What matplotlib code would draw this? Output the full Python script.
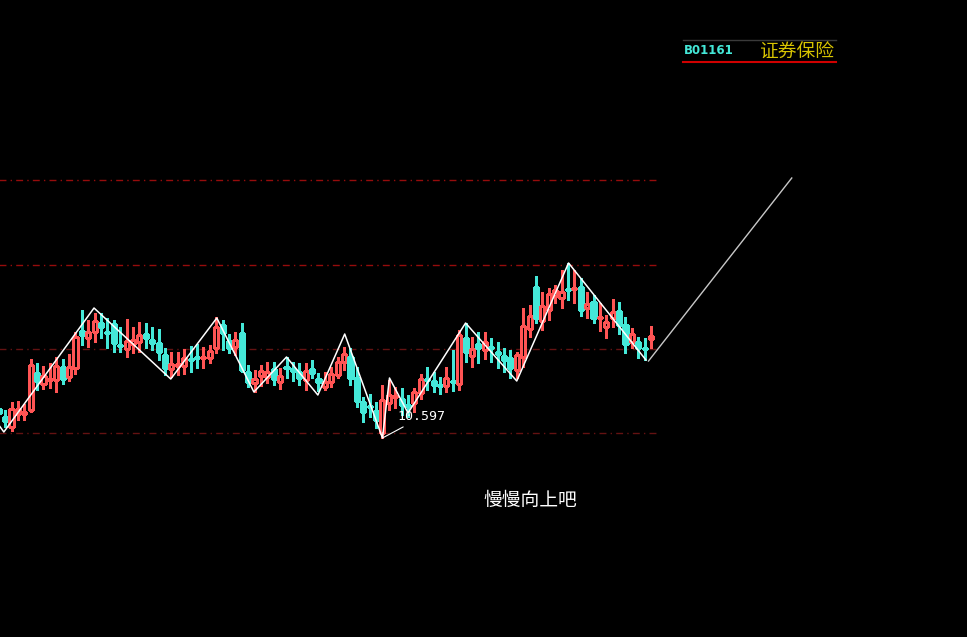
import matplotlib.pyplot as plt
from matplotlib.lines import Line2D

plt.rcParams['font.family'] = ['Noto Sans CJK SC', 'DejaVu Sans']

# daily candles, index 0..102
opens = [10.887, 10.807, 10.707, 10.837, 10.837, 10.877, 11.247, 11.137, 11.177, 11.177,
         11.307, 11.207, 11.297, 11.667, 11.597, 11.657, 11.747, 11.657, 11.737, 11.527,
         11.487, 11.537, 11.557, 11.637, 11.577, 11.547, 11.427, 11.287, 11.317, 11.317,
         11.387, 11.407, 11.397, 11.397, 11.497, 11.727, 11.567, 11.507, 11.647, 11.257,
         11.147, 11.217, 11.207, 11.287, 11.157, 11.307, 11.287, 11.257, 11.177, 11.287,
         11.187, 11.107, 11.157, 11.227, 11.357, 11.407, 11.197, 10.957, 10.917, 10.867,
         10.647, 10.947, 11.007, 10.987, 10.927, 10.947, 11.047, 11.187, 11.167, 11.127,
         11.117, 11.167, 11.137, 11.597, 11.417, 11.537, 11.477, 11.507, 11.457, 11.417,
         11.397, 11.277, 11.407, 11.687, 12.107, 11.767, 11.877, 12.017, 11.997, 12.087,
         12.087, 12.107, 11.897, 11.957, 11.797, 11.707, 11.797, 11.867, 11.727, 11.557,
         11.557, 11.497, 11.587]
highs = [10.917, 10.877, 10.957, 10.967, 10.937, 11.387, 11.347, 11.317, 11.347, 11.407,
         11.387, 11.437, 11.657, 11.877, 11.777, 11.847, 11.847, 11.797, 11.777, 11.707,
         11.787, 11.707, 11.757, 11.747, 11.707, 11.687, 11.497, 11.457, 11.457, 11.487,
         11.517, 11.537, 11.507, 11.527, 11.807, 11.777, 11.637, 11.657, 11.747, 11.327,
         11.277, 11.327, 11.357, 11.357, 11.297, 11.407, 11.357, 11.347, 11.347, 11.377,
         11.247, 11.257, 11.307, 11.407, 11.507, 11.497, 11.307, 11.007, 11.037, 10.957,
         11.127, 11.177, 11.107, 11.097, 11.027, 11.097, 11.237, 11.307, 11.257, 11.207,
         11.307, 11.477, 11.677, 11.747, 11.607, 11.657, 11.657, 11.597, 11.557, 11.497,
         11.477, 11.457, 11.897, 11.927, 12.217, 12.057, 12.097, 12.127, 12.277, 12.347,
         12.277, 12.197, 12.057, 12.027, 11.947, 11.827, 11.987, 11.957, 11.807, 11.697,
         11.607, 11.597, 11.717]
lows = [10.817, 10.707, 10.667, 10.777, 10.777, 10.857, 11.077, 11.087, 11.097, 11.057,
        11.137, 11.167, 11.237, 11.527, 11.507, 11.557, 11.597, 11.497, 11.457, 11.457,
        11.407, 11.447, 11.457, 11.497, 11.477, 11.377, 11.227, 11.207, 11.227, 11.237,
        11.257, 11.297, 11.297, 11.347, 11.447, 11.477, 11.447, 11.427, 11.257, 11.107,
        11.057, 11.117, 11.147, 11.127, 11.087, 11.197, 11.167, 11.127, 11.077, 11.197,
        11.067, 11.077, 11.107, 11.197, 11.277, 11.127, 10.907, 10.757, 10.807, 10.697,
        10.597, 10.877, 10.897, 10.827, 10.807, 10.857, 10.987, 11.077, 11.057, 11.037,
        11.057, 11.067, 11.077, 11.357, 11.307, 11.347, 11.387, 11.357, 11.297, 11.257,
        11.197, 11.197, 11.307, 11.607, 11.747, 11.677, 11.777, 11.947, 11.897, 11.977,
        11.947, 11.817, 11.797, 11.747, 11.667, 11.597, 11.707, 11.637, 11.447, 11.497,
        11.397, 11.377, 11.497]
closes = [10.847, 10.767, 10.887, 10.887, 10.857, 11.327, 11.167, 11.217, 11.187, 11.317,
          11.187, 11.307, 11.607, 11.627, 11.657, 11.767, 11.707, 11.647, 11.547, 11.517,
          11.567, 11.577, 11.627, 11.597, 11.547, 11.457, 11.297, 11.337, 11.337, 11.397,
          11.377, 11.397, 11.407, 11.467, 11.707, 11.647, 11.497, 11.577, 11.277, 11.157,
          11.187, 11.267, 11.257, 11.187, 11.217, 11.297, 11.267, 11.197, 11.267, 11.247,
          11.157, 11.157, 11.237, 11.357, 11.437, 11.197, 10.967, 10.857, 10.907, 10.777,
          10.977, 11.027, 11.017, 10.927, 10.917, 11.057, 11.187, 11.177, 11.127, 11.117,
          11.197, 11.157, 11.627, 11.457, 11.487, 11.497, 11.557, 11.497, 11.437, 11.377,
          11.297, 11.427, 11.717, 11.817, 11.797, 11.917, 12.037, 12.077, 12.057, 12.077,
          12.097, 11.877, 11.937, 11.797, 11.807, 11.757, 11.857, 11.727, 11.537, 11.637,
          11.497, 11.487, 11.617]

# zigzag turning points
zz_x = [-1.0, 0.8, 14.9, 26.9, 34.1, 39.9, 45.0, 49.9, 54.1, 60.0, 61.1, 64.0, 73.0, 81.0, 89.1, 101.2]
zz_y = [10.817, 10.657, 11.897, 11.187, 11.797, 11.057, 11.407, 11.027, 11.637, 10.597, 11.197,
        10.847, 11.747, 11.167, 12.347, 11.377]
# projection line
proj_x = [101.6, 124.0]
proj_y = [11.367, 13.197]

levels_bright = [13.177, 12.327]
levels_dim = [11.487, 10.647]

low_idx = 60
low_val = 10.597

red = '#ff5454'
cyan = '#44e8d8'

fig = plt.figure(figsize=(9.67, 6.37), dpi=100, facecolor='black')
ax = fig.add_axes([0, 0, 1, 1])
ax.set_facecolor('black')

for lv in levels_bright:
    ax.hlines(lv, 0, 103.2, color='#960c0c', lw=1.0, linestyles=(0, (5, 3, 1, 3)), zorder=0)
for lv in levels_dim:
    ax.hlines(lv, 0, 103.2, color='#641212', lw=1.0, linestyles=(0, (5, 3, 1, 3)), zorder=0)

for i in range(len(opens)):
    o, h, l, c = opens[i], highs[i], lows[i], closes[i]
    up = c >= o
    col = red if up else cyan
    ax.vlines(i, l, h, color=col, lw=0.75, zorder=1, antialiased=False)
    if up:
        ax.bar(i, c - o, bottom=o, width=0.64, facecolor='black', edgecolor=col, lw=0.75,
               zorder=2, antialiased=False)
    else:
        ax.bar(i, o - c, bottom=c, width=0.64, facecolor=col, edgecolor=col, lw=0.75,
               zorder=2, antialiased=False)

ax.plot(zz_x, zz_y, color='white', lw=1.1, zorder=3)
ax.plot(proj_x, proj_y, color='#c8c8c8', lw=1.0, zorder=3)

ax.annotate('10.597', xy=(low_idx, low_val), xytext=(62.4, 10.807),
            color='white', fontsize=9.5, family='DejaVu Sans Mono', ha='left', va='center',
            arrowprops=dict(arrowstyle='-', color='white', lw=0.8, shrinkA=1, shrinkB=0),
            zorder=4)

ax.set_xlim(0.2, 151.4)
ax.set_ylim(8.607, 14.977)
ax.axis('off')

# header box
fig.add_artist(Line2D([683 / 967, 836 / 967], [1 - 40 / 637, 1 - 40 / 637], color='#3a3a3a', lw=1))
fig.add_artist(Line2D([683 / 967, 836 / 967], [1 - 62 / 637, 1 - 62 / 637], color='#d00000', lw=1.5))
fig.text(684 / 967, 1 - 51 / 637, 'B01161', color=cyan, fontsize=8.5, fontweight='bold',
         family='DejaVu Sans', ha='left', va='center')
fig.text(759 / 967, 1 - 52 / 637, '证券保险', color='#d8c400', fontsize=13.5, ha='left', va='center')

fig.text(530 / 967, 1 - 500 / 637, '慢慢向上吧', color='white', fontsize=13.5, ha='center', va='center')

fig.savefig('out.png', dpi=100, facecolor='black')
